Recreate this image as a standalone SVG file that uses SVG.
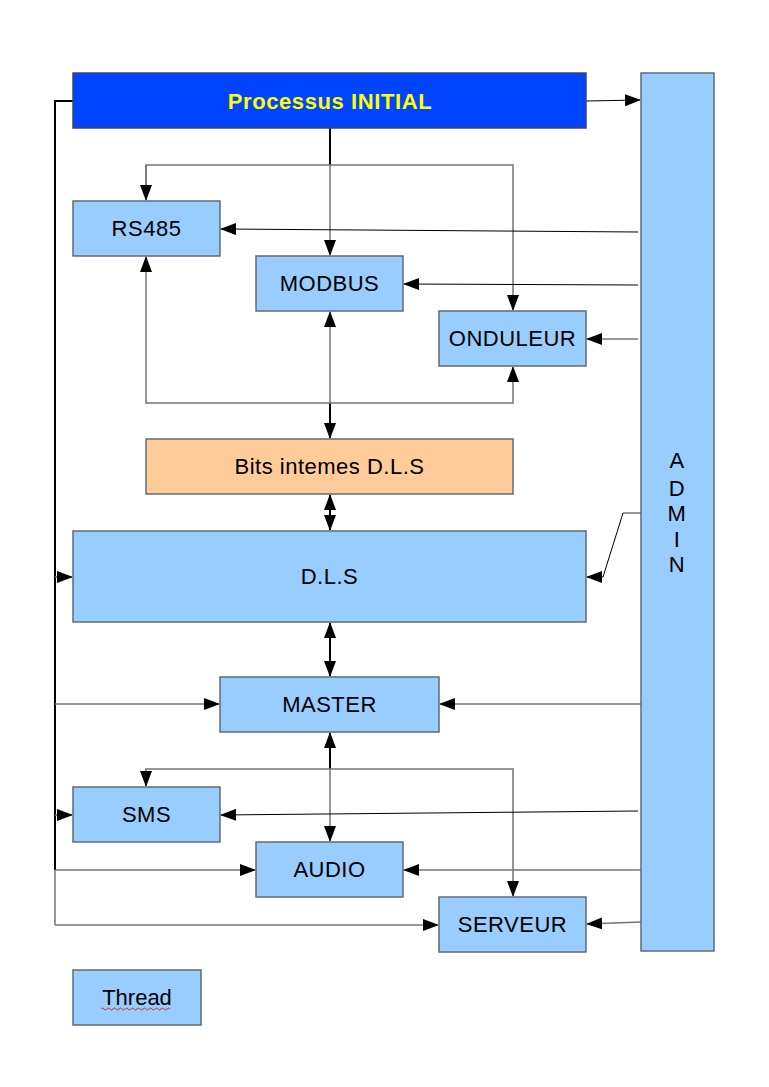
<svg xmlns="http://www.w3.org/2000/svg" width="769" height="1087" viewBox="0 0 769 1087">
<style>
.box{fill:#99ccff;stroke:#5f6b78;stroke-width:1.5}
.t{font-family:"Liberation Sans",Arial,sans-serif;font-size:22px;fill:#000;text-anchor:middle;letter-spacing:0.5px}
.g{fill:none;stroke:#747474;stroke-width:1.5}
.k{fill:none;stroke:#000;stroke-width:2}
.kt{fill:none;stroke:#000;stroke-width:1}
</style>
<defs>
<marker id="a" markerUnits="userSpaceOnUse" markerWidth="16" markerHeight="12" viewBox="0 0 16 12" refX="15" refY="6" orient="auto">
<path d="M0,0 L16,6 L0,12 Z" fill="#000"/>
</marker>
<marker id="s" markerUnits="userSpaceOnUse" markerWidth="16" markerHeight="12" viewBox="0 0 16 12" refX="1" refY="6" orient="auto">
<path d="M16,0 L0,6 L16,12 Z" fill="#000"/>
</marker>
</defs>
<rect width="769" height="1087" fill="#fff"/>

<g id="connectors">
<path class="k" d="M73,101 H55 V870"/>
<path class="g" d="M55,870 V925"/>
<path class="g" d="M55,577 H72" marker-end="url(#a)"/>
<path class="g" d="M55,704 H219" marker-end="url(#a)"/>
<path class="g" d="M55,815 H72" marker-end="url(#a)"/>
<path class="g" d="M55,870 H255" marker-end="url(#a)"/>
<path class="g" d="M55,925 H438" marker-end="url(#a)"/>
<path class="kt" d="M586,101 L640,100" marker-end="url(#a)"/>
<path class="k" d="M330,128 V165"/>
<path class="g" d="M330,165 V255" marker-end="url(#a)"/>
<path class="g" d="M146,200 V165 H513 V310" marker-end="url(#a)"/>
<path class="g" d="M146,165 V200" marker-end="url(#a)"/>
<path class="kt" d="M638,232 L221,229" marker-end="url(#a)"/>
<path class="kt" d="M638,285 L404,284" marker-end="url(#a)"/>
<path class="g" d="M638,339 H587" marker-end="url(#a)"/>
<path class="g" d="M330,403 V312" marker-end="url(#a)"/>
<path class="k" d="M330,403 V438" marker-end="url(#a)"/>
<path class="g" d="M146,257 V403 H513 V367" marker-start="url(#s)" marker-end="url(#a)"/>
<path class="k" d="M330,495 V530" marker-start="url(#s)" marker-end="url(#a)"/>
<path class="g" d="M641,513 H623"/>
<path class="kt" d="M623,513 L603,577 H587" marker-end="url(#a)"/>
<path class="k" d="M330,623 V676" marker-start="url(#s)" marker-end="url(#a)"/>
<path class="g" d="M641,704 H440" marker-end="url(#a)"/>
<path class="k" d="M330,733 V769" marker-start="url(#s)"/>
<path class="g" d="M330,769 V841" marker-end="url(#a)"/>
<path class="g" d="M146,786 V769 H513 V896" marker-end="url(#a)"/>
<path class="g" d="M146,769 V786" marker-end="url(#a)"/>
<path class="kt" d="M638,811 L221,815" marker-end="url(#a)"/>
<path class="g" d="M641,870 H404" marker-end="url(#a)"/>
<path class="g" d="M641,922 L587,924" marker-end="url(#a)"/>
</g>

<g id="processus">
<rect x="73" y="73" width="513" height="55" fill="#0044ff" stroke="#3a4a6a" stroke-width="1.5"/>
<text x="330" y="109" class="t" style="fill:#ffff00;font-weight:bold;letter-spacing:0.6px">Processus INITIAL</text>
</g>
<g id="admin">
<rect x="641" y="73" width="73" height="878" class="box"/>
<text class="t" x="677" y="468">A</text>
<text class="t" x="677" y="496">D</text>
<text class="t" x="677" y="521">M</text>
<text class="t" x="677" y="547">I</text>
<text class="t" x="677" y="572">N</text>
</g>
<g id="rs485"><rect x="73" y="201" width="147" height="55" class="box"/><text class="t" x="146.5" y="236">RS485</text></g>
<g id="modbus"><rect x="256" y="256" width="147" height="55" class="box"/><text class="t" x="329.5" y="291">MODBUS</text></g>
<g id="onduleur"><rect x="439" y="311" width="147" height="55" class="box"/><text class="t" x="512.5" y="346">ONDULEUR</text></g>
<g id="bits"><rect x="146" y="439" width="367" height="55" fill="#ffcc99" stroke="#5f6b78" stroke-width="1.5"/><text class="t" x="329.5" y="474">Bits intemes D.L.S</text></g>
<g id="dls"><rect x="73" y="531" width="513" height="91" class="box"/><text class="t" x="329.5" y="584">D.L.S</text></g>
<g id="master"><rect x="220" y="677" width="219" height="55" class="box"/><text class="t" x="329.5" y="712">MASTER</text></g>
<g id="sms"><rect x="73" y="787" width="147" height="55" class="box"/><text class="t" x="146.5" y="822">SMS</text></g>
<g id="audio"><rect x="256" y="842" width="147" height="55" class="box"/><text class="t" x="329.5" y="877">AUDIO</text></g>
<g id="serveur"><rect x="439" y="897" width="147" height="55" class="box"/><text class="t" x="512.5" y="932">SERVEUR</text></g>
<g id="thread">
<rect x="73" y="970" width="128" height="55" class="box"/>
<text class="t" x="137" y="1005" style="letter-spacing:0">Thread</text>
<path d="M101,1009 q1.5,-2 3,0 t3,0 t3,0 t3,0 t3,0 t3,0 t3,0 t3,0 t3,0 t3,0 t3,0 t3,0 t3,0 t3,0 t3,0 t3,0 t3,0 t3,0 t3,0 t3,0 t3,0 t3,0 t3,0" fill="none" stroke="#e00000" stroke-width="0.8"/>
</g>
</svg>
